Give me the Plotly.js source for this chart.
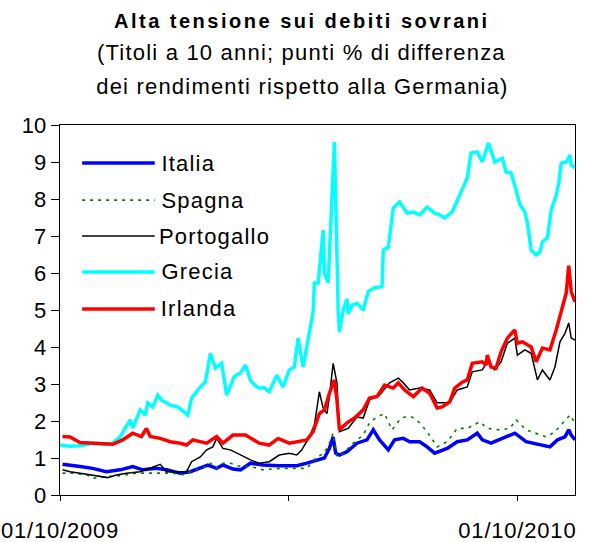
<!DOCTYPE html>
<html>
<head>
<meta charset="utf-8">
<script src="https://cdn.plot.ly/plotly-3.0.1.min.js"></script>
<style>
html,body{margin:0;padding:0;background:#fff;}
#chart{width:593px;height:542px;}
#chart .annotation-text{letter-spacing:1.2px;}
#chart .annotation[data-index="5"] .annotation-text{letter-spacing:2.5px;}
#chart .xtick text{letter-spacing:0.8px;}
</style>
</head>
<body>
<div id="chart"></div>
<script>
// ---- data (spread vs Germany, percentage points) ----
const seriesNames = ["Italia", "Spagna", "Portogallo", "Grecia", "Irlanda"];

const datesItalia = ["2009-10-03","2009-10-09","2009-10-17","2009-10-27","2009-11-07","2009-11-18","2009-11-28","2009-12-06","2009-12-17","2009-12-25","2010-01-05","2010-01-13","2010-01-21","2010-01-27","2010-02-03","2010-02-08","2010-02-16","2010-02-22","2010-03-02","2010-03-12","2010-03-25","2010-04-08","2010-04-16","2010-04-24","2010-04-30","2010-05-04","2010-05-07","2010-05-09","2010-05-12","2010-05-18","2010-05-26","2010-06-03","2010-06-08","2010-06-13","2010-06-20","2010-06-25","2010-07-02","2010-07-07","2010-07-15","2010-07-21","2010-07-27","2010-08-06","2010-08-14","2010-08-22","2010-08-30","2010-09-03","2010-09-10","2010-09-19","2010-09-29","2010-10-08","2010-10-19","2010-10-27","2010-11-02","2010-11-08","2010-11-11","2010-11-13","2010-11-16"];
const valuesItalia = [0.83,0.81,0.77,0.72,0.63,0.68,0.77,0.68,0.72,0.68,0.59,0.63,0.72,0.81,0.72,0.81,0.70,0.68,0.86,0.81,0.79,0.79,0.86,0.95,1.00,1.26,1.57,1.13,1.08,1.17,1.40,1.49,1.76,1.49,1.22,1.49,1.53,1.44,1.44,1.30,1.13,1.26,1.44,1.49,1.67,1.49,1.40,1.53,1.67,1.44,1.35,1.30,1.49,1.57,1.76,1.62,1.49];

const datesSpagna = ["2009-10-03","2009-10-11","2009-10-23","2009-10-27","2009-11-07","2009-11-18","2009-12-01","2009-12-09","2009-12-20","2009-12-30","2010-01-09","2010-01-15","2010-01-23","2010-01-29","2010-02-03","2010-02-08","2010-02-14","2010-02-22","2010-03-02","2010-03-12","2010-03-25","2010-04-08","2010-04-16","2010-04-24","2010-04-30","2010-05-04","2010-05-07","2010-05-10","2010-05-15","2010-05-23","2010-05-31","2010-06-05","2010-06-11","2010-06-17","2010-06-23","2010-06-29","2010-07-03","2010-07-09","2010-07-15","2010-07-21","2010-07-29","2010-08-06","2010-08-14","2010-08-22","2010-09-01","2010-09-07","2010-09-17","2010-09-25","2010-09-30","2010-10-08","2010-10-15","2010-10-24","2010-10-31","2010-11-06","2010-11-12","2010-11-16"];
const valuesSpagna = [0.59,0.59,0.54,0.45,0.50,0.52,0.59,0.59,0.59,0.59,0.54,0.68,0.72,0.86,0.72,0.86,0.86,0.77,0.77,0.68,0.72,0.72,0.72,1.03,1.13,1.40,1.67,1.03,1.13,1.40,1.62,1.95,2.11,2.20,1.76,2.03,2.11,2.11,1.95,1.71,1.30,1.44,1.80,1.80,1.98,1.80,1.76,1.80,2.03,1.76,1.67,1.57,1.71,1.95,2.16,1.95];

const datesPortogallo = ["2009-10-03","2009-10-09","2009-10-17","2009-10-27","2009-11-08","2009-11-15","2009-11-23","2009-12-04","2009-12-12","2009-12-20","2009-12-25","2010-01-02","2010-01-10","2010-01-14","2010-01-21","2010-01-26","2010-01-31","2010-02-03","2010-02-08","2010-02-14","2010-02-22","2010-03-02","2010-03-09","2010-03-17","2010-03-25","2010-04-02","2010-04-08","2010-04-12","2010-04-18","2010-04-22","2010-04-26","2010-04-29","2010-05-02","2010-05-04","2010-05-07","2010-05-10","2010-05-12","2010-05-19","2010-05-26","2010-05-31","2010-06-05","2010-06-13","2010-06-21","2010-06-28","2010-07-02","2010-07-07","2010-07-15","2010-07-23","2010-07-29","2010-08-08","2010-08-14","2010-08-22","2010-08-26","2010-09-03","2010-09-07","2010-09-13","2010-09-18","2010-09-23","2010-09-29","2010-10-01","2010-10-07","2010-10-12","2010-10-17","2010-10-21","2010-10-27","2010-10-31","2010-11-04","2010-11-08","2010-11-11","2010-11-13","2010-11-16"];
const valuesPortogallo = [0.68,0.63,0.59,0.54,0.47,0.54,0.59,0.63,0.72,0.83,0.63,0.63,0.63,0.90,1.03,1.22,1.30,1.53,1.26,1.22,1.08,0.95,0.86,0.90,1.08,1.13,1.08,1.22,1.57,1.89,2.79,2.35,2.20,2.66,3.56,3.03,1.71,1.80,2.11,2.08,2.57,2.70,3.03,3.16,3.03,2.84,2.89,2.84,2.49,2.49,2.84,2.92,3.33,3.38,3.60,3.38,3.60,4.10,4.24,3.78,3.92,3.83,3.11,3.38,3.11,3.46,4.14,4.37,4.65,4.24,4.19];

const datesGrecia = ["2009-10-01","2009-10-09","2009-10-17","2009-10-27","2009-11-06","2009-11-12","2009-11-18","2009-11-26","2009-11-28","2009-12-04","2009-12-08","2009-12-10","2009-12-14","2009-12-18","2009-12-21","2009-12-28","2010-01-03","2010-01-11","2010-01-14","2010-01-21","2010-01-25","2010-01-29","2010-02-02","2010-02-07","2010-02-11","2010-02-14","2010-02-17","2010-02-22","2010-02-26","2010-03-02","2010-03-06","2010-03-09","2010-03-13","2010-03-17","2010-03-23","2010-03-28","2010-04-02","2010-04-06","2010-04-09","2010-04-13","2010-04-17","2010-04-21","2010-04-22","2010-04-25","2010-04-29","2010-04-30","2010-05-03","2010-05-08","2010-05-11","2010-05-12","2010-05-15","2010-05-18","2010-05-19","2010-05-22","2010-05-26","2010-05-31","2010-06-04","2010-06-09","2010-06-15","2010-06-16","2010-06-20","2010-06-24","2010-06-29","2010-07-05","2010-07-10","2010-07-15","2010-07-21","2010-07-27","2010-07-31","2010-08-04","2010-08-10","2010-08-14","2010-08-18","2010-08-22","2010-08-25","2010-08-30","2010-09-03","2010-09-08","2010-09-13","2010-09-19","2010-09-22","2010-09-26","2010-09-30","2010-10-03","2010-10-07","2010-10-09","2010-10-12","2010-10-16","2010-10-19","2010-10-21","2010-10-25","2010-10-28","2010-11-01","2010-11-03","2010-11-05","2010-11-09","2010-11-12","2010-11-13","2010-11-16"];
const valuesGrecia = [1.35,1.32,1.33,1.40,1.38,1.40,1.58,2.03,1.81,2.30,2.16,2.49,2.38,2.70,2.57,2.43,2.38,2.16,2.62,2.92,3.05,3.83,3.43,3.56,2.70,2.97,3.20,3.30,3.51,3.10,2.95,2.89,2.90,2.79,3.24,2.92,3.38,3.46,4.24,3.46,4.19,4.95,5.73,5.73,7.16,6.00,5.73,9.54,5.00,4.40,5.00,5.30,4.90,5.13,5.18,5.00,5.50,5.60,5.63,6.62,6.70,7.76,7.92,7.62,7.65,7.57,7.78,7.62,7.57,7.49,7.65,7.97,8.30,8.57,9.24,9.27,9.00,9.51,9.00,9.10,8.73,8.70,8.24,7.85,7.65,7.35,6.62,6.49,6.57,6.84,6.95,7.70,8.10,8.43,8.97,9.00,9.19,8.92,8.84];

const datesIrlanda = ["2009-10-03","2009-10-09","2009-10-17","2009-10-27","2009-11-12","2009-11-20","2009-11-28","2009-12-05","2009-12-09","2009-12-12","2009-12-20","2009-12-28","2010-01-05","2010-01-10","2010-01-15","2010-01-26","2010-02-03","2010-02-08","2010-02-16","2010-02-26","2010-03-09","2010-03-17","2010-03-24","2010-04-02","2010-04-10","2010-04-16","2010-04-21","2010-04-26","2010-04-30","2010-05-04","2010-05-08","2010-05-10","2010-05-12","2010-05-18","2010-05-24","2010-05-31","2010-06-05","2010-06-11","2010-06-17","2010-06-24","2010-06-28","2010-07-03","2010-07-10","2010-07-17","2010-07-23","2010-07-29","2010-08-02","2010-08-08","2010-08-12","2010-08-18","2010-08-22","2010-08-26","2010-09-03","2010-09-06","2010-09-07","2010-09-10","2010-09-14","2010-09-18","2010-09-23","2010-09-29","2010-10-01","2010-10-05","2010-10-12","2010-10-16","2010-10-21","2010-10-27","2010-11-01","2010-11-05","2010-11-09","2010-11-11","2010-11-13","2010-11-16"];
const valuesIrlanda = [1.58,1.57,1.42,1.40,1.37,1.49,1.67,1.58,1.80,1.58,1.53,1.44,1.40,1.35,1.49,1.40,1.58,1.40,1.62,1.62,1.40,1.35,1.53,1.40,1.44,1.49,1.71,2.20,2.30,2.75,3.11,2.57,1.76,1.95,2.08,2.30,2.62,2.66,2.97,2.89,3.03,2.84,2.66,2.89,2.75,2.35,2.38,2.52,2.89,3.05,3.11,3.56,3.60,3.51,3.78,3.46,3.43,3.87,4.24,4.46,4.10,4.14,4.00,3.60,3.97,3.92,4.46,5.00,5.46,6.20,5.50,5.22];

const xTickVals = ["2009-10-01", "2010-04-01", "2010-10-01"];
const xTickText = ["01/10/2009", "", "01/10/2010"];
const yTickVals = [0,1,2,3,4,5,6,7,8,9,10];

// ---- styles ----
const FONT = "Liberation Sans, Arial, Helvetica, sans-serif";
const styles = [
  {color: "#0000FF", width: 3.5, dash: "solid"},
  {color: "#008000", width: 1.6, dash: "3px,5px"},
  {color: "#000000", width: 1.5, dash: "solid"},
  {color: "#00FFFF", width: 3.5, dash: "solid"},
  {color: "#FF0000", width: 3.5, dash: "solid"}
];
const xs = [datesItalia, datesSpagna, datesPortogallo, datesGrecia, datesIrlanda];
const ys = [valuesItalia, valuesSpagna, valuesPortogallo, valuesGrecia, valuesIrlanda];

const traces = seriesNames.map((n, i) => ({
  type: "scatter", mode: "lines", name: n,
  x: xs[i], y: ys[i],
  line: {color: styles[i].color, width: styles[i].width, dash: styles[i].dash},
  showlegend: false, hoverinfo: "skip"
}));

// custom legend (line samples + labels), in paper coordinates
const legY = [0.897, 0.797, 0.700, 0.603, 0.503];
const shapes = [];
const annotations = [];
seriesNames.forEach((n, i) => {
  shapes.push({type: "line", xref: "paper", yref: "paper",
    x0: 0.043, x1: 0.184, y0: legY[i], y1: legY[i],
    line: {color: styles[i].color, width: styles[i].width, dash: styles[i].dash}});
  annotations.push({xref: "paper", yref: "paper", x: 0.200, y: legY[i],
    xanchor: "left", yanchor: "middle", showarrow: false, text: n,
    font: {family: FONT, size: 22, color: "#000"}});
});
// titles (index 5, 6, 7)
annotations.push({xref: "paper", yref: "paper", x: 0.47, y: 1.281, xanchor: "center", yanchor: "middle",
  showarrow: false, text: "<b>Alta tensione sui debiti sovrani</b>", font: {family: FONT, size: 20, color: "#000"}});
annotations.push({xref: "paper", yref: "paper", x: 0.47, y: 1.195, xanchor: "center", yanchor: "middle",
  showarrow: false, text: "(Titoli a 10 anni; punti % di differenza", font: {family: FONT, size: 22, color: "#000"}});
annotations.push({xref: "paper", yref: "paper", x: 0.47, y: 1.103, xanchor: "center", yanchor: "middle",
  showarrow: false, text: "dei rendimenti rispetto alla Germania)", font: {family: FONT, size: 22, color: "#000"}});

const layout = {
  width: 593, height: 542,
  margin: {l: 60, r: 18, t: 125, b: 47, pad: 0},
  paper_bgcolor: "#fff", plot_bgcolor: "#fff",
  font: {family: FONT, size: 22, color: "#000"},
  showlegend: false,
  xaxis: {
    type: "date", range: ["2009-10-01", "2010-11-16"],
    tickmode: "array", tickvals: xTickVals, ticktext: xTickText,
    ticks: "outside", ticklen: 5, tickwidth: 1, tickcolor: "#000",
    showline: true, linecolor: "#000", linewidth: 1.3, mirror: true,
    showgrid: false, zeroline: false,
    tickfont: {family: FONT, size: 22, color: "#000"},
    ticklabelstandoff: 10
  },
  yaxis: {
    range: [0, 10], tickmode: "array", tickvals: yTickVals,
    ticks: "outside", ticklen: 8, tickwidth: 1, tickcolor: "#000",
    showline: true, linecolor: "#000", linewidth: 1.3, mirror: true,
    showgrid: false, zeroline: false,
    tickfont: {family: FONT, size: 22, color: "#000"}
  },
  shapes: shapes,
  annotations: annotations
};

Plotly.newPlot("chart", traces, layout, {staticPlot: true, displayModeBar: false});
</script>
</body>
</html>
